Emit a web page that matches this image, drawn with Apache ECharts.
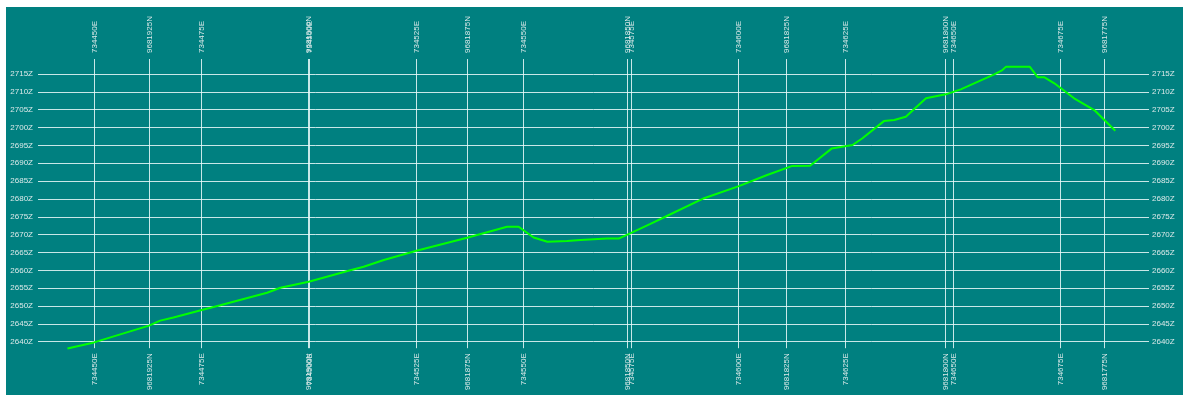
<!DOCTYPE html>
<html>
<head>
<meta charset="utf-8">
<script src="https://cdn.jsdelivr.net/npm/echarts@6/dist/echarts.min.js"></script>
<style>
  html, body { margin: 0; padding: 0; background: #ffffff; }
  #chart {
    position: absolute;
    left: 6px;
    top: 7px;
    width: 1177px;
    height: 388px;
    background: #008080;
  }
</style>
</head>
<body>
<div id="chart"></div>
<script>
// profile samples: easting (m) and elevation (Z)
const profileE = [
  734443.8, 734450.0, 734462.8, 734465.4, 734468.5, 734475.1, 734479.4, 734490.3,
  734493.4, 734500.0, 734509.7, 734512.8, 734517.5, 734525.1, 734536.9, 734546.2,
  734548.9, 734552.4, 734555.6, 734560.2, 734563.3, 734569.5, 734572.2, 734575.0,
  734579.6, 734582.7, 734592.1, 734600.2, 734606.8, 734612.5, 734616.8, 734621.8,
  734626.7, 734629.0, 734634.0, 734636.4, 734639.1, 734643.8, 734648.4, 734651.9,
  734659.7, 734661.6, 734662.4, 734668.0, 734669.8, 734671.3, 734673.7, 734678.3,
  734683.0, 734687.9
];
const profileZ = [
  2638.1, 2639.8, 2644.5, 2645.9, 2646.8, 2648.9, 2650.2, 2653.7,
  2655.1, 2656.8, 2660.0, 2661.0, 2662.9, 2665.5, 2669.1, 2672.2,
  2672.2, 2669.2, 2668.0, 2668.2, 2668.5, 2668.9, 2668.9, 2670.4,
  2673.0, 2674.8, 2680.2, 2683.6, 2686.7, 2689.2, 2689.3, 2694.1,
  2695.1, 2697.0, 2701.8, 2702.1, 2703.0, 2708.2, 2709.3, 2710.7,
  2714.9, 2716.1, 2717.0, 2717.0, 2714.1, 2714.1, 2712.4, 2708.2,
  2704.9, 2699.1
];

// grid crossings along the section
const eastingTicks = [734450, 734475, 734500, 734525, 734550, 734575, 734600, 734625, 734650, 734675];
const northingTicks = [9681925, 9681900, 9681875, 9681850, 9681825, 9681800, 9681775];
const northingAtE = [734462.8, 734499.9, 734536.9, 734574.2, 734611.2, 734648.3, 734685.2];

const zMin = 2640;
const zMax = 2715;
const zStep = 5;
const eMin = 734436.94;
const eMax = 734695.75;

const crossLabels = eastingTicks.map(e => e + 'E').concat(northingTicks.map(n => n + 'N'));
const crossPos = eastingTicks.concat(northingAtE);

const lineColor = 'rgba(235, 250, 250, 0.85)';
const textColor = '#dbe9e9';
const font = '8px "Liberation Sans", Arial, sans-serif';

const chart = echarts.init(document.getElementById('chart'));

function renderCross(params, api) {
  const e = api.value(0);
  const x = Math.round(api.coord([e, zMax])[0]) + 0.5;
  const top = api.coord([e, zMax])[1];
  const bottom = api.coord([e, zMin])[1];
  const label = crossLabels[params.dataIndex];
  return {
    type: 'group',
    children: [
      {
        type: 'line',
        shape: { x1: x, y1: top - 15, x2: x, y2: bottom + 6.5 },
        style: { stroke: lineColor, lineWidth: 1 },
      },
      {
        type: 'text',
        x: x,
        y: top - 21,
        rotation: Math.PI / 2,
        style: { text: label, fill: textColor, font: font, align: 'left', verticalAlign: 'middle' },
      },
      {
        type: 'text',
        x: x,
        y: bottom + 11.5,
        rotation: Math.PI / 2,
        style: { text: label, fill: textColor, font: font, align: 'right', verticalAlign: 'middle' },
      },
    ],
  };
}

const yAxisBase = {
  type: 'value',
  min: zMin,
  max: zMax,
  interval: zStep,
  axisLine: { show: false },
  axisTick: { show: false },
};

const option = {
  animation: false,
  backgroundColor: 'transparent',
  grid: { left: 32, right: 34, top: 67, bottom: 53.3 },
  xAxis: {
    type: 'value',
    min: eMin,
    max: eMax,
    show: false,
  },
  yAxis: [
    Object.assign({}, yAxisBase, {
      position: 'left',
      axisLabel: {
        color: textColor,
        fontSize: 8,
        fontFamily: 'Liberation Sans',
        margin: 5,
        formatter: v => v + 'Z',
      },
      splitLine: { show: true, lineStyle: { color: lineColor, width: 1 } },
    }),
    Object.assign({}, yAxisBase, {
      position: 'right',
      axisLabel: {
        color: textColor,
        fontSize: 8,
        fontFamily: 'Liberation Sans',
        margin: 3,
        formatter: v => v + 'Z',
      },
      splitLine: { show: false },
    }),
  ],
  series: [
    {
      type: 'custom',
      renderItem: renderCross,
      clip: false,
      silent: true,
      z: 1,
      data: crossPos.map(e => [e, zMin]),
    },
    {
      type: 'line',
      showSymbol: false,
      clip: false,
      z: 3,
      lineStyle: { color: '#00ff00', width: 2 },
      data: profileE.map((e, i) => [e, profileZ[i]]),
    },
  ],
};

chart.setOption(option);
</script>
</body>
</html>
